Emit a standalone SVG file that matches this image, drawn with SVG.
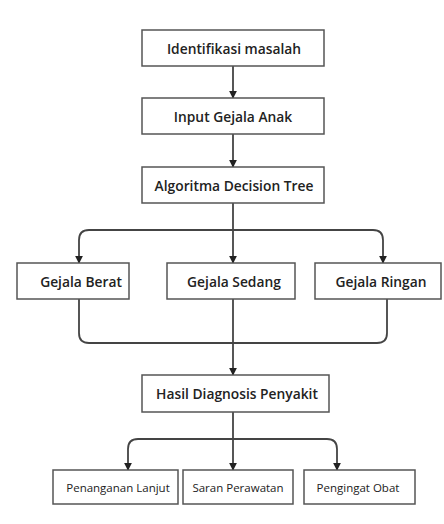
<svg xmlns="http://www.w3.org/2000/svg" width="444" height="524" viewBox="0 0 444 524">
<style>
.box{fill:#fff;stroke:#555;stroke-width:1.5}
.t{font-family:"Open Sans","Liberation Sans",sans-serif;font-weight:600;font-size:13.8px;fill:#222;text-anchor:middle;dominant-baseline:central}
.s{font-family:"Open Sans","Liberation Sans",sans-serif;font-weight:500;font-size:11.5px;fill:#222;text-anchor:middle;dominant-baseline:central}
.c{fill:none;stroke:#444;stroke-width:1.8}
</style>
<defs>
<marker id="ar" viewBox="0 0 10 10" refX="9" refY="5" markerWidth="4.5" markerHeight="4.5" orient="auto">
<path d="M0,0L10,5L0,10z" fill="#222"/>
</marker>
</defs>
<rect width="444" height="524" fill="#fff"/>
<g id="connectors">
<path class="c" d="M233,66V98" marker-end="url(#ar)"/>
<path class="c" d="M233,134V167" marker-end="url(#ar)"/>
<path class="c" d="M233,203V263" marker-end="url(#ar)"/>
<path class="c" d="M233,230H89Q79,230 79,240V263" marker-end="url(#ar)"/>
<path class="c" d="M233,230H373Q383,230 383,240V263" marker-end="url(#ar)"/>
<path class="c" d="M79,299V333Q79,343 89,343H233"/>
<path class="c" d="M387,299V333Q387,343 377,343H233"/>
<path class="c" d="M233,299V375" marker-end="url(#ar)"/>
<path class="c" d="M233,412V470" marker-end="url(#ar)"/>
<path class="c" d="M233,439H138Q128,439 128,449V470" marker-end="url(#ar)"/>
<path class="c" d="M233,439H327Q337,439 337,449V470" marker-end="url(#ar)"/>
</g>
<g id="n1"><rect class="box" x="142" y="30" width="182" height="36"/><text class="t" x="234" y="48">Identifikasi masalah</text></g>
<g id="n2"><rect class="box" x="142" y="98" width="182" height="36"/><text class="t" x="233" y="116">Input Gejala Anak</text></g>
<g id="n3"><rect class="box" x="142" y="167" width="182" height="36"/><text class="t" x="234" y="185">Algoritma Decision Tree</text></g>
<g id="n4"><rect class="box" x="17" y="263" width="112" height="36"/><text class="t" x="81" y="281">Gejala Berat</text></g>
<g id="n5"><rect class="box" x="167" y="263" width="128" height="36"/><text class="t" x="234" y="281">Gejala Sedang</text></g>
<g id="n6"><rect class="box" x="315" y="263" width="126" height="36"/><text class="t" x="381" y="281">Gejala Ringan</text></g>
<g id="n7"><rect class="box" x="142" y="375" width="187" height="37"/><text class="t" x="237" y="393.5">Hasil Diagnosis Penyakit</text></g>
<g id="n8"><rect class="box" x="53" y="470" width="125" height="34"/><text class="s" x="118" y="487">Penanganan Lanjut</text></g>
<g id="n9"><rect class="box" x="183" y="470" width="110" height="34"/><text class="s" x="238" y="487">Saran Perawatan</text></g>
<g id="n10"><rect class="box" x="304" y="470" width="111" height="34"/><text class="s" x="358" y="487">Pengingat Obat</text></g>
</svg>
